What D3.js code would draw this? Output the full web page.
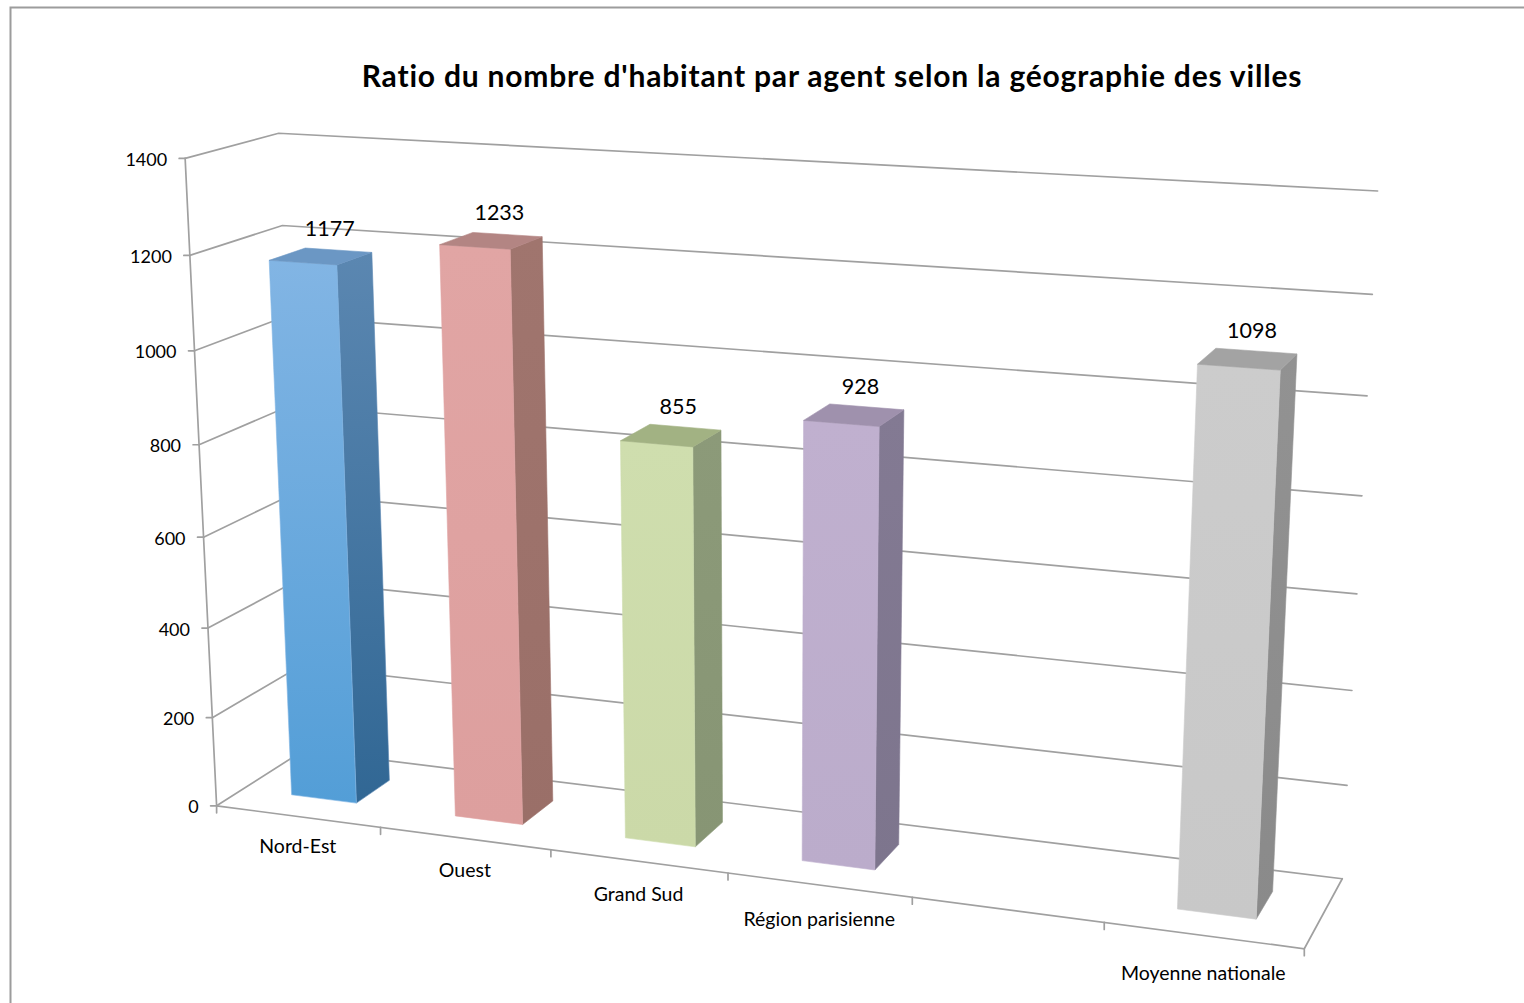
<!DOCTYPE html>
<html>
<head>
<meta charset="utf-8">
<script src="https://cdn.jsdelivr.net/npm/d3@7/dist/d3.min.js"></script>
<style>
body { margin: 0; background: #fff; }
text { font-family: Lato, "Open Sans", sans-serif; fill: #000; }
</style>
</head>
<body>
<svg id="chart" width="1524" height="1003"></svg>
<script>
// data
var categories = ["Nord-Est", "Ouest", "Grand Sud", "Région parisienne", "", "Moyenne nationale"];
var values = [1177, 1233, 855, 928, null, 1098];
var yTicks = [0, 200, 400, 600, 800, 1000, 1200, 1400];
var title = "Ratio du nombre d'habitant par agent selon la géographie des villes";

// face colours per bar: front top, front bottom, side top, side bottom, top
var frontTop = ["#82b5e4", "#e1a5a4", "#cfdeae", "#c0b0cf", null, "#cccccc"];
var frontBot = ["#539ed7", "#dd9f9e", "#cbd9a8", "#bbaccb", null, "#c8c8c8"];
var sideTop  = ["#5b87b1", "#a0756e", "#8c9a79", "#837a93", null, "#929292"];
var sideBot  = ["#316794", "#9a6f68", "#879574", "#7d758d", null, "#8a8a8a"];
var topCol   = ["#6b97c4", "#b38583", "#a2b283", "#9f91ad", null, "#a3a3a3"];

var svg = d3.select("#chart");

// outer chart border (runs off the right / bottom of the window)
svg.append("rect")
  .attr("x", 10.5).attr("y", 7.5)
  .attr("width", 1560).attr("height", 1060)
  .attr("fill", "none").attr("stroke", "#9c9c9c").attr("stroke-width", 2);

// scales in world units (0..1 on each axis)
var xCat = d3.scaleBand().domain(d3.range(categories.length)).range([0, 1]);
var xBar = d3.scaleBand().domain(d3.range(categories.length)).range([0, 1])
  .paddingInner(0.6).paddingOuter(0.3);
var y = d3.scaleLinear().domain([0, 1400]).range([0, 1]);
var zBar = [0.3, 0.7];

// camera: fit a 3x4 perspective matrix to where the box corners sit in the picture
var anchors = [
  [[0, 0, 0], [218, 804]], [[0, 200, 0], [212, 716]], [[0, 1200, 0], [190, 255]],
  [[0, 1400, 0], [183, 158]], [[0, 1400, 1], [280, 134]], [[0, 1200, 1], [283, 226]],
  [[0, 0, 1], [301, 751]],
  [[1, 1400, 1], [1377, 191]], [[1, 1200, 1], [1373, 294]], [[1, 0, 1], [1343, 877]],
  [[1, 0, 0], [1304, 949]],
  [[1/6, 0, 0], [382, 828]], [[2/6, 0, 0], [552, 852]], [[3/6, 0, 0], [728, 873]],
  [[4/6, 0, 0], [912, 898]], [[5/6, 0, 0], [1103, 923]]
];

function fitCamera(pts) {
  var n = 11, N = [], r = [];
  for (var i = 0; i < n; i++) { N.push(new Array(n).fill(0)); r.push(0); }
  pts.forEach(function(p) {
    var X = p[0][0], Y = y(p[0][1]), Z = p[0][2];
    var u = p[1][0] / 1000, v = p[1][1] / 1000;
    var rows = [
      [[X, Y, Z, 1, 0, 0, 0, 0, -u*X, -u*Y, -u*Z], u],
      [[0, 0, 0, 0, X, Y, Z, 1, -v*X, -v*Y, -v*Z], v]
    ];
    rows.forEach(function(e) {
      for (var i = 0; i < n; i++) {
        for (var j = 0; j < n; j++) N[i][j] += e[0][i] * e[0][j];
        r[i] += e[0][i] * e[1];
      }
    });
  });
  // gaussian elimination
  for (var c = 0; c < n; c++) {
    var piv = c;
    for (var k = c + 1; k < n; k++) if (Math.abs(N[k][c]) > Math.abs(N[piv][c])) piv = k;
    var t = N[c]; N[c] = N[piv]; N[piv] = t;
    var tr = r[c]; r[c] = r[piv]; r[piv] = tr;
    for (var k = c + 1; k < n; k++) {
      var f = N[k][c] / N[c][c];
      for (var j = c; j < n; j++) N[k][j] -= f * N[c][j];
      r[k] -= f * r[c];
    }
  }
  var p = new Array(n).fill(0);
  for (var i = n - 1; i >= 0; i--) {
    var s = r[i];
    for (var j = i + 1; j < n; j++) s -= N[i][j] * p[j];
    p[i] = s / N[i][i];
  }
  return p;
}
var P = fitCamera(anchors);

// X, Y, Z all in world units
function proj(X, Y, Z) {
  var w = P[8]*X + P[9]*Y + P[10]*Z + 1;
  return [1000 * (P[0]*X + P[1]*Y + P[2]*Z + P[3]) / w,
          1000 * (P[4]*X + P[5]*Y + P[6]*Z + P[7]) / w];
}
var line = d3.line();

var grid = svg.append("g").attr("fill", "none")
  .attr("stroke", "#a0a0a0").attr("stroke-width", 1.7).attr("stroke-linecap", "round");

// gridlines on left wall and back wall
yTicks.forEach(function(t) {
  var Y = y(t);
  grid.append("path").attr("d", line([proj(0, Y, 0), proj(0, Y, 1), proj(1, Y, 1)]));
});
// axis edge and floor edges
grid.append("path").attr("d", line([proj(0, 0, 0), proj(0, 1, 0)]));
grid.append("path").attr("d", line([proj(0, 0, 0), proj(1, 0, 0), proj(1, 0, 1)]));

// y ticks + labels
yTicks.forEach(function(t) {
  var p = proj(0, y(t), 0);
  grid.append("path").attr("d", line([[p[0] - 6, p[1]], p]));
  svg.append("text").attr("x", p[0] - 18).attr("y", p[1] + 1).attr("dy", "0.36em")
    .attr("text-anchor", "end").attr("font-size", 18).text(t);
});

// category ticks
d3.range(categories.length + 1).forEach(function(i) {
  var p = proj(i / categories.length, 0, 0);
  grid.append("path").attr("d", line([p, [p[0], p[1] + 7]]));
});

// category labels
categories.forEach(function(c, i) {
  var xc = xCat(i) + xCat.bandwidth() / 2;
  var p = proj(xc, 0, 0);
  svg.append("text").attr("x", p[0]).attr("y", p[1] + 36 + 9 * xc)
    .attr("text-anchor", "middle").attr("font-size", 19.5).text(c);
});

// bars
var defs = svg.append("defs");
function grad(id, c0, c1) {
  var g = defs.append("linearGradient").attr("id", id)
    .attr("x1", 0).attr("y1", 0).attr("x2", 0).attr("y2", 1);
  g.append("stop").attr("offset", 0).attr("stop-color", c0);
  g.append("stop").attr("offset", 1).attr("stop-color", c1);
  return "url(#" + id + ")";
}

var bars = svg.append("g");
values.forEach(function(v, i) {
  if (v == null) return;
  var x0 = xBar(i), x1 = x0 + xBar.bandwidth(), h = y(v), z0 = zBar[0], z1 = zBar[1];
  var front = [proj(x0, 0, z0), proj(x1, 0, z0), proj(x1, h, z0), proj(x0, h, z0)];
  var side = [proj(x1, 0, z0), proj(x1, 0, z1), proj(x1, h, z1), proj(x1, h, z0)];
  var top = [proj(x0, h, z0), proj(x1, h, z0), proj(x1, h, z1), proj(x0, h, z1)];
  var g = bars.append("g").attr("stroke-width", 0.6).attr("stroke-linejoin", "round");
  g.append("path").attr("d", line(side) + "Z")
    .attr("fill", grad("s" + i, sideTop[i], sideBot[i])).attr("stroke", sideTop[i]);
  g.append("path").attr("d", line(front) + "Z")
    .attr("fill", grad("f" + i, frontTop[i], frontBot[i])).attr("stroke", frontTop[i]);
  g.append("path").attr("d", line(top) + "Z")
    .attr("fill", topCol[i]).attr("stroke", topCol[i]);

  var lp = proj(x0 + xBar.bandwidth() / 2, h, 0.6);
  svg.append("text").attr("x", lp[0]).attr("y", lp[1] - 25).attr("dy", "0.36em")
    .attr("text-anchor", "middle").attr("font-size", 21.5).text(v);
});

// title
svg.append("text").attr("x", 832).attr("y", 76).attr("dy", "0.36em")
  .attr("text-anchor", "middle").attr("font-size", 30).attr("font-weight", "bold")
  .attr("letter-spacing", 0.8).text(title);
</script>
</body>
</html>
